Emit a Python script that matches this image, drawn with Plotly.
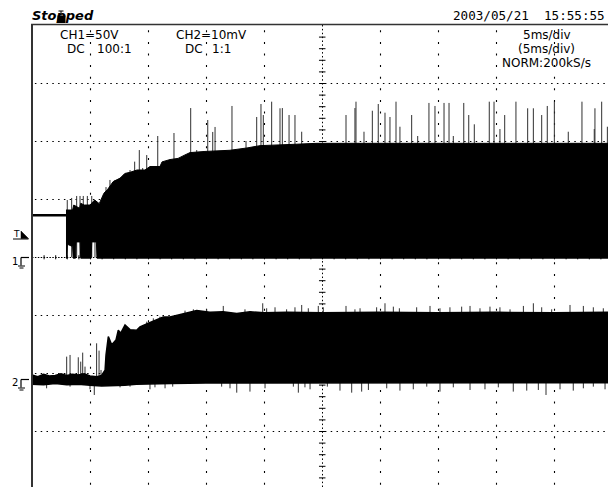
import plotly.graph_objects as go

# ---------------- data (time in ms, CH1 in V, CH2 in mV) ----------------
ch1_pre_t = [0.0, 2.93]
ch1_pre_v = [36.0, 36.0]

ch1_top_t = [2.93, 3.5, 3.6, 4.1, 4.2, 4.5, 5.0, 5.4, 5.8, 6.2, 6.5, 7.0, 7.6, 8.0, 8.45, 9.05,
             9.74, 10.17, 11.03, 11.21, 11.9, 12.59, 13.19, 13.62, 14.91, 17.07, 18.53, 19.66,
             22.24, 24.57, 50.0]
ch1_top_v = [40.5, 40.5, 44.8, 42.0, 46.3, 44.8, 44.8, 49.1, 46.0, 55.0, 58.0, 65.0, 68.0, 72.0,
             73.0, 75.0, 75.0, 78.0, 78.0, 82.0, 84.0, 85.0, 88.0, 90.0, 91.0, 92.0, 94.0, 96.0,
             97.0, 98.0, 98.0]
ch1_bot_t = [2.93, 3.0, 3.05, 3.5, 3.55, 3.75, 3.8, 4.15, 4.2, 5.1, 5.15, 5.55, 5.6, 50.0]
ch1_bot_v = [-1.0, -1.0, 11.0, 9.0, -1.0, -1.0, 13.0, 13.0, -1.0, -1.0, 13.0, 13.0, -1.0, -1.0]

ch1_spike_t = [3.04, 3.42, 3.85, 4.14, 4.42, 4.77, 5.15, 5.43, 6.38, 6.72, 7.16, 7.41, 7.65, 8.45,
               8.85, 9.25, 9.54, 9.89, 10.84, 12.24, 13.68, 14.20, 15.15, 15.58, 15.78, 17.24,
               18.45, 19.37, 19.74, 19.94, 20.66, 21.38, 21.58, 22.16, 22.67, 23.25, 27.07, 27.84,
               27.93, 28.62, 29.34, 29.85, 30.43, 30.86, 31.38, 31.72, 32.73, 33.25, 34.22, 34.74,
               35.52, 35.95, 36.32, 37.22, 37.65, 38.13, 39.42, 39.83, 40.34, 40.75, 41.72, 42.73,
               43.22, 43.94, 44.42, 45.03, 46.23, 47.41, 48.47, 48.53, 49.11, 49.60]
ch1_spike_v = [49.1, 50.9, 52.6, 52.6, 52.6, 52.6, 52.6, 49.1, 60.3, 66.4, 66.4, 64.7, 68.4, 75.0,
               82.2, 92.2, 76.7, 87.9, 104.3, 106.9, 128.4, 92.2, 118.1, 107.8, 112.1, 130.2,
               100.0, 120.7, 131.9, 122.4, 133.9, 128.2, 128.4, 122.4, 122.4, 108.0, 122.4, 128.4,
               133.9, 108.0, 126.1, 131.9, 124.4, 120.7, 133.9, 112.3, 122.4, 104.3, 132.8, 130.2,
               132.8, 132.8, 104.3, 132.8, 122.4, 114.4, 133.9, 133.9, 110.3, 122.4, 133.9, 128.2,
               128.2, 122.4, 130.2, 133.9, 108.0, 133.9, 110.3, 128.2, 133.9, 112.3]

ch2_top_t = [0.0, 0.5, 1.0, 1.5, 2.0, 2.5, 3.0, 3.5, 4.0, 4.5, 5.0, 5.6, 6.0, 6.3, 6.38, 6.58,
             6.87, 7.24, 7.44, 7.65, 8.02, 8.45, 9.02, 9.31, 10.03, 10.75, 11.32, 11.9, 13.04,
             14.2, 15.34, 16.47, 17.65, 18.79, 20.0, 22.0, 25.0, 30.0, 35.0, 40.0, 45.0, 50.0]
ch2_top_v = [0.7, 0.4, 0.8, 0.5, 0.6, 0.9, 0.6, 0.8, 0.7, 0.9, 0.5, 0.4, 0.6, 1.5, 4.1, 7.3,
             5.9, 6.7, 8.4, 7.9, 9.3, 8.5, 8.4, 9.0, 9.6, 10.2, 10.7, 10.7, 11.3, 11.8, 11.5,
             11.6, 11.3, 11.6, 11.4, 11.5, 11.4, 11.5, 11.4, 11.5, 11.4, 11.5]
ch2_bot_t = [0.0, 1.0, 2.0, 3.0, 4.0, 5.0, 6.0, 7.0, 8.0, 9.0, 10.0, 12.0, 15.0, 20.0, 30.0,
             40.0, 50.0]
ch2_bot_v = [-0.9, -1.0, -0.8, -1.0, -0.9, -1.1, -1.2, -1.2, -1.1, -0.9, -0.8, -0.8, -0.7, -0.65,
             -0.65, -0.65, -0.65]

ch2_up_t = [2.99, 3.28, 3.99, 4.20, 4.37, 4.57, 5.57, 5.78, 5.95, 8.73, 9.89, 10.46, 11.03, 13.19,
            13.91, 15.06, 16.49, 18.36, 19.89, 20.23, 20.95, 21.95, 22.67, 23.25, 23.82, 24.68,
            25.11, 27.07, 27.84, 28.28, 29.71, 30.43, 31.15, 31.67, 33.16, 34.31, 35.17, 36.03,
            37.04, 37.76, 38.62, 39.48, 40.34, 41.21, 42.36, 43.22, 43.94, 44.80, 46.38, 47.53,
            48.39, 49.25]
ch2_up_v = [3.85, 4.14, 3.74, 2.99, 4.54, 2.13, 6.15, 4.89, 1.55, 8.45, 9.88, 10.46, 10.74, 11.78,
            12.01, 12.01, 12.59, 12.01, 13.05, 12.19, 12.36, 12.01, 12.36, 12.76, 12.19, 12.59,
            12.36, 12.59, 12.01, 12.19, 12.36, 13.05, 12.47, 12.19, 12.36, 12.59, 12.19, 12.36,
            12.47, 12.59, 12.19, 12.47, 12.36, 12.01, 12.59, 13.05, 12.36, 12.01, 12.76, 12.59,
            12.36, 12.19]
ch2_dn_t = [1.26, 3.28, 5.00, 5.37, 7.59, 8.45, 10.17, 10.60, 11.47, 12.13, 16.35, 17.07, 17.65,
            18.79, 20.09, 22.53, 22.96, 23.53, 23.97, 25.46, 26.55, 27.56, 28.42, 29.00, 30.58,
            31.72, 32.87, 34.03, 35.17, 36.32, 37.76, 39.05, 40.20, 41.49, 42.65, 43.65, 44.31,
            45.52, 46.66, 47.53, 48.39, 49.40]
ch2_dn_v = [-1.61, -1.32, -1.78, -2.76, -1.44, -1.32, -1.78, -1.44, -1.61, -1.32, -1.32, -1.61,
            -2.36, -2.18, -1.61, -1.32, -2.36, -1.44, -1.78, -1.32, -2.01, -2.36, -2.18, -1.90,
            -1.61, -2.01, -1.78, -1.32, -2.18, -1.44, -1.90, -1.78, -1.44, -2.18, -2.01, -1.90,
            -2.76, -1.78, -2.01, -1.61, -1.32, -1.78]

CH1_V_PER_DIV = 50.0
CH2_MV_PER_DIV = 10.0
CH2_OFFSET_DIV = -2.103

# ---------------- geometry ----------------
W, H = 608, 487
ML, MT = 32, 25
DIV_PX = 58.0
PW, PH = W - ML, H - MT
X_RANGE = [0, PW / DIV_PX * 5.0]
Y_RANGE = [4 - PH / DIV_PX, 4]
HX = 0.5 / DIV_PX * 5.0   # half a pixel in ms
HY = 0.5 / DIV_PX         # half a pixel in div


def c1(v):
    return [None if a is None else a / CH1_V_PER_DIV for a in v]


def c2(v):
    return [None if a is None else a / CH2_MV_PER_DIV + CH2_OFFSET_DIV for a in v]


def px(x):
    return (x - ML) / PW


def py(y):
    return (H - y) / PH


def spikes(ts, vs, base=0.0):
    xs, ys = [], []
    for t, v in zip(ts, vs):
        xs += [t, t, None]
        ys += [base, v, None]
    return xs, ys


fig = go.Figure()
SPK = '#303030'

# spikes first (under the filled bursts)
sx, sy = spikes(ch1_spike_t, ch1_spike_v)
fig.add_trace(go.Scatter(x=sx, y=c1(sy), mode='lines', line=dict(color=SPK, width=1),
                         hoverinfo='skip'))
ux, uy = spikes(ch2_up_t, ch2_up_v)
fig.add_trace(go.Scatter(x=ux, y=c2(uy), mode='lines', line=dict(color=SPK, width=1),
                         hoverinfo='skip'))
dx, dy = spikes(ch2_dn_t, ch2_dn_v)
fig.add_trace(go.Scatter(x=dx, y=c2(dy), mode='lines', line=dict(color=SPK, width=1),
                         hoverinfo='skip'))

# CH1 burst
fig.add_trace(go.Scatter(x=ch1_top_t + ch1_bot_t[::-1], y=c1(ch1_top_v + ch1_bot_v[::-1]),
                         fill='toself', fillcolor='black', mode='lines',
                         line=dict(color='black', width=1), hoverinfo='skip'))
fig.add_trace(go.Scatter(x=ch1_pre_t, y=c1(ch1_pre_v), mode='lines',
                         line=dict(color='black', width=2.5), hoverinfo='skip'))

# CH2 burst
fig.add_trace(go.Scatter(x=ch2_top_t + ch2_bot_t[::-1], y=c2(ch2_top_v + ch2_bot_v[::-1]),
                         fill='toself', fillcolor='black', mode='lines',
                         line=dict(color='black', width=1.5), hoverinfo='skip'))

shapes = []
GRID = '#000000'
# dotted grid
for k in range(1, 10):
    if k == 5:
        continue
    shapes.append(dict(type='line', xref='x', yref='y', x0=5 * k + HX, x1=5 * k + HX,
                       y0=4 - 0.1 + HY, y1=Y_RANGE[0],
                       line=dict(color=GRID, width=1.1, dash='2px,9.6px'), layer='below'))
for j in [3, 2, 1, -1, -2, -3]:
    shapes.append(dict(type='line', xref='x', yref='y', x0=0.25, x1=X_RANGE[1], y0=j - HY,
                       y1=j - HY, line=dict(color=GRID, width=1.1, dash='1.5px,4.3px'),
                       layer='below'))
# centre cross
shapes.append(dict(type='line', xref='x', yref='y', x0=25 + HX, x1=25 + HX, y0=4,
                   y1=Y_RANGE[0], line=dict(color=GRID, width=1, dash='1.5px,2.37px'),
                   layer='below'))
shapes.append(dict(type='line', xref='x', yref='y', x0=0, x1=X_RANGE[1], y0=-HY, y1=-HY,
                   line=dict(color=GRID, width=1, dash='1.5px,1.4px'), layer='below'))
for m in range(1, 40):
    yy = 4 - m * 0.2 - HY
    shapes.append(dict(type='line', xref='x', yref='y', x0=25 - 0.26, x1=25 + 0.3, y0=yy, y1=yy,
                       line=dict(color=GRID, width=1), layer='below'))
for m in range(1, 50):
    xx = m * 1.0 + HX
    shapes.append(dict(type='line', xref='x', yref='y', x0=xx, x1=xx, y0=-0.04, y1=0.03,
                       line=dict(color=GRID, width=1), layer='below'))

# frame
shapes.append(dict(type='line', xref='paper', yref='paper', x0=px(32), x1=px(32), y0=py(24),
                   y1=py(490), line=dict(color='#333333', width=2)))
shapes.append(dict(type='line', xref='paper', yref='paper', x0=px(31), x1=px(610), y0=py(24.5),
                   y1=py(24.5), line=dict(color='#333333', width=1.5)))

# channel ground markers
for gy in [257.5, 379.5]:
    shapes.append(dict(type='line', xref='paper', yref='paper', x0=px(21), x1=px(29),
                       y0=py(gy), y1=py(gy), line=dict(color='black', width=1.2)))
    shapes.append(dict(type='line', xref='paper', yref='paper', x0=px(21), x1=px(21),
                       y0=py(gy), y1=py(gy + 8), line=dict(color='black', width=1.2)))
    shapes.append(dict(type='line', xref='paper', yref='paper', x0=px(18), x1=px(25),
                       y0=py(gy + 8.5), y1=py(gy + 8.5), line=dict(color='black', width=1)))
    shapes.append(dict(type='line', xref='paper', yref='paper', x0=px(19.5), x1=px(23.5),
                       y0=py(gy + 10.5), y1=py(gy + 10.5), line=dict(color='black', width=1)))
# trigger marker
shapes.append(dict(type='path', xref='paper', yref='paper',
                   path='M {} {} L {} {} L {} {} Z'.format(px(21), py(231), px(28.5), py(238.5),
                                                           px(21), py(238.5)),
                   fillcolor='black', line=dict(color='black', width=0.5)))
shapes.append(dict(type='line', xref='paper', yref='paper', x0=px(13), x1=px(28.5), y0=py(239),
                   y1=py(239), line=dict(color='black', width=1)))
# cursor glyph over the first "p" of "Stopped"
shapes.append(dict(type='rect', xref='paper', yref='paper', x0=px(57.5), x1=px(65.5), y0=py(15.5),
                   y1=py(23), fillcolor='black', line=dict(width=0)))
shapes.append(dict(type='line', xref='paper', yref='paper', x0=px(61), x1=px(61), y0=py(11),
                   y1=py(15.5), line=dict(color='black', width=1)))
shapes.append(dict(type='line', xref='paper', yref='paper', x0=px(58.5), x1=px(63.5), y0=py(11),
                   y1=py(11), line=dict(color='black', width=1)))

FONT = 'DejaVu Sans'
ann = []


def add_text(t, x, y, xanchor='left', size=11.5, family=FONT, style=None):
    if style == 'bi':
        t = '<b><i>%s</i></b>' % t
    ann.append(dict(text=t, x=px(x), y=py(y), xref='paper',
                    yref='paper', xanchor=xanchor, yanchor='middle', showarrow=False,
                    font=dict(family=family, size=size, color='black')))


add_text('Stopped', 30, 15.5, size=13, style='bi')
add_text('2003/05/21  15:55:55', 607, 15.5, xanchor='right', size=12.6, family='DejaVu Sans Mono')
add_text('CH1=50V', 58, 35, size=12)
add_text('DC', 65, 49, size=12)
add_text('100:1', 95, 49, size=12)
add_text('CH2=10mV', 174, 35, size=12)
add_text('DC', 183, 49, size=12)
add_text('1:1', 210, 49, size=12)
add_text('5ms/div', 546.5, 35, xanchor='center', size=12)
add_text('(5ms/div)', 546.5, 49, xanchor='center', size=12)
add_text('NORM:200kS/s', 546.5, 63, xanchor='center', size=12)
add_text('1', 15, 261, xanchor='center', size=10)
add_text('2', 15, 382, xanchor='center', size=10)
add_text('T', 16, 234, xanchor='center', size=9)

fig.update_layout(
    width=W, height=H, margin=dict(l=ML, r=0, t=MT, b=0, pad=0),
    paper_bgcolor='white', plot_bgcolor='white', showlegend=False,
    xaxis=dict(range=X_RANGE, visible=False, fixedrange=True),
    yaxis=dict(range=Y_RANGE, visible=False, fixedrange=True),
    shapes=shapes, annotations=ann,
)
fig.write_html('out.html', config={'displayModeBar': False},
               post_script="document.body.style.margin='0px';document.body.style.overflow='hidden';")
